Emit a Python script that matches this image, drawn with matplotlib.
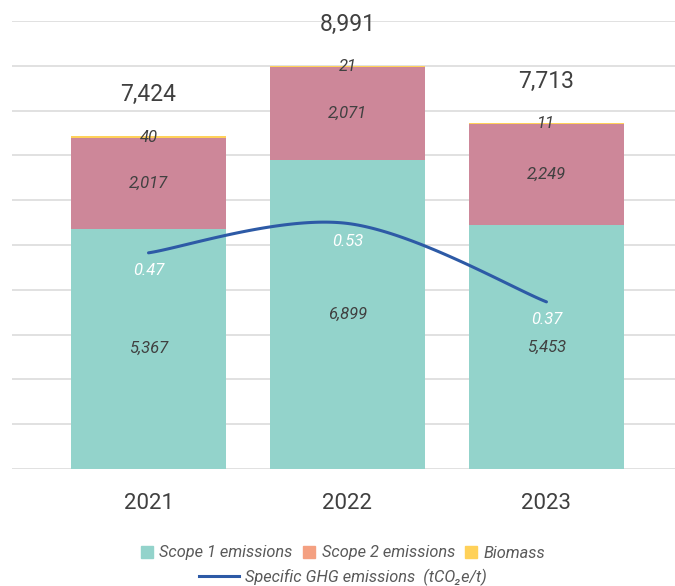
import matplotlib
matplotlib.use('Agg')
import matplotlib.pyplot as plt
from matplotlib.patches import Patch
from matplotlib.lines import Line2D
import numpy as np

years = ['2021', '2022', '2023']
scope1 = [5367, 6899, 5453]
scope2 = [2017, 2071, 2249]
biomass = [40, 21, 11]
totals = [7424, 8991, 7713]
intensity = [0.47, 0.53, 0.37]

c_s1 = '#93D3CB'
c_s2 = '#CD8799'
c_s2_leg = '#F4A081'
c_bio = '#FFD159'
c_line = '#2D5AA6'
c_txt = '#404040'

plt.rcParams['font.family'] = ['Roboto', 'DejaVu Sans']

fig = plt.figure(figsize=(6.75, 5.86), dpi=100)
ax = fig.add_axes([12/675, 117/586, 663/675, 448/586])

x = np.arange(len(years))
w = 0.78
s1 = np.array(scope1)
s2 = np.array(scope2)
bio = np.array(biomass)

ax.bar(x, s1, w, color=c_s1, zorder=2)
ax.bar(x, s2, w, bottom=s1, color=c_s2, zorder=2)
ax.bar(x, bio, w, bottom=s1 + s2, color=c_bio, zorder=2)

ax.set_xlim(-0.686, 2.646)
ax.set_ylim(0, 10000)
for v in range(0, 10001, 1000):
    ax.axhline(v, color='#D9D9D9', lw=1.1, zorder=1)

for s in ax.spines.values():
    s.set_visible(False)
ax.set_yticks([])
ax.set_xticks(x)
ax.set_xticklabels(years, fontsize=16, color=c_txt)
ax.tick_params(axis='x', length=0, pad=17)

lab = dict(ha='center', va='center', fontsize=12, style='italic', color=c_txt, zorder=5)
for i in range(len(years)):
    ax.text(x[i], s1[i] / 2, f'{s1[i]:,}', **lab)
    ax.text(x[i], s1[i] + s2[i] / 2, f'{s2[i]:,}', **lab)
    ax.text(x[i], s1[i] + s2[i] + bio[i] / 2, f'{bio[i]:,}', **lab)
    ax.annotate(f'{totals[i]:,}', (x[i], s1[i] + s2[i] + bio[i]), xytext=(0, 30),
                textcoords='offset points', ha='center', va='center',
                fontsize=16.5, color=c_txt, annotation_clip=False)

# smoothed line (Excel style bezier through the points)
ax2 = ax.twinx()
ax2.set_ylim(0.029, 0.943)
ax2.axis('off')
pts = np.column_stack([x, intensity]).astype(float)
ext = np.vstack([pts[0], pts, pts[-1]])
t = np.linspace(0, 1, 60)[:, None]
curve = []
for k in range(len(pts) - 1):
    p0, p1, p2, p3 = ext[k], ext[k + 1], ext[k + 2], ext[k + 3]
    b1 = p1 + (p2 - p0) / 6
    b2 = p2 - (p3 - p1) / 6
    seg = (1 - t)**3 * p1 + 3 * (1 - t)**2 * t * b1 + 3 * (1 - t) * t**2 * b2 + t**3 * p2
    curve.append(seg)
curve = np.vstack(curve)
ax2.plot(curve[:, 0], curve[:, 1], color=c_line, lw=2.2, solid_capstyle='round', zorder=4)
for i in range(len(years)):
    ax2.annotate(f'{intensity[i]:.2f}', (x[i], intensity[i]), xytext=(0, -13),
                 textcoords='offset points', ha='center', va='center',
                 fontsize=12, style='italic', color='white')

h1 = [Patch(color=c_s1, label='Scope 1 emissions'),
      Patch(color=c_s2_leg, label='Scope 2 emissions'),
      Patch(color=c_bio, label='Biomass')]
h2 = [Line2D([], [], color=c_line, lw=2.2, label='Specific GHG emissions  (tCO₂e/t)')]
leg_kw = dict(frameon=False, prop={'style': 'italic', 'size': 11.8},
              labelcolor='#595959', handlelength=0.75, handleheight=0.75,
              handletextpad=0.4, columnspacing=0.6, borderpad=0)
fig.legend(handles=h1, ncol=3, loc='center', bbox_to_anchor=(343/675, 1 - 553/586), **leg_kw)
leg_kw['handlelength'] = 2.4
fig.legend(handles=h2, loc='center', bbox_to_anchor=(343/675, 1 - 577/586), **leg_kw)

fig.savefig('out.png', dpi=100)
